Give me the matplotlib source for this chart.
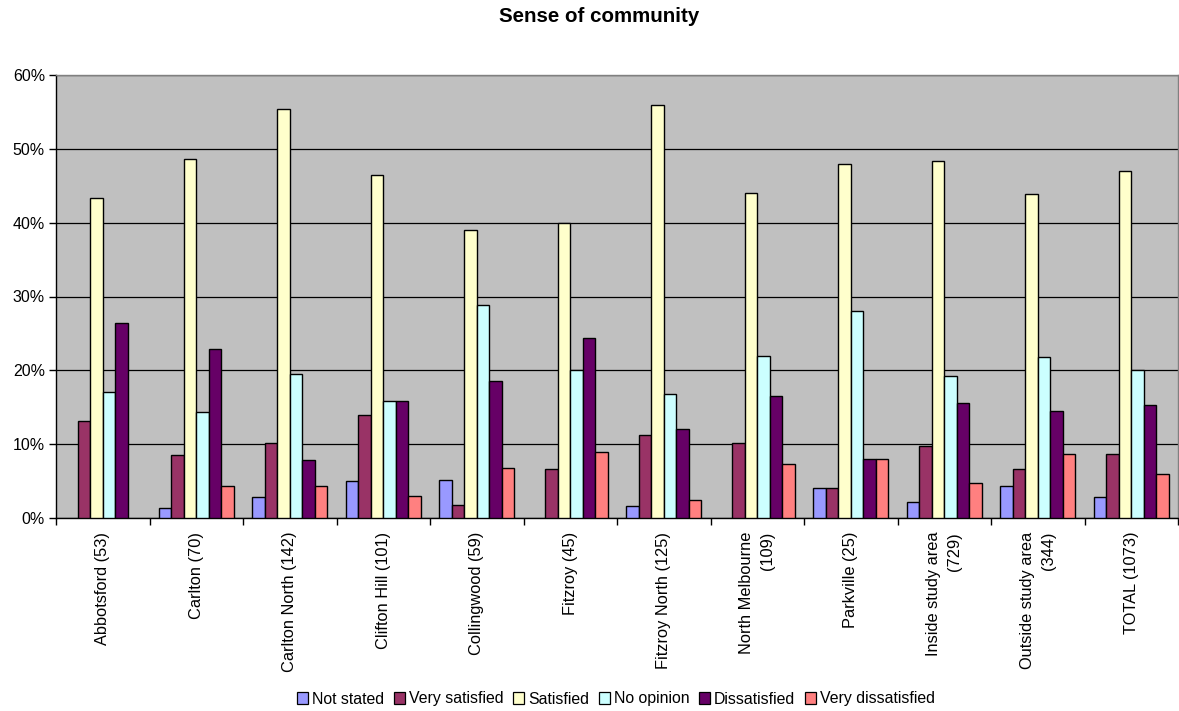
import numpy as np
import matplotlib
matplotlib.use("Agg")
import matplotlib.pyplot as plt
from matplotlib.patches import Patch
from matplotlib.ticker import FuncFormatter, FixedLocator

plt.rcParams['font.family'] = ['Liberation Sans', 'DejaVu Sans']

categories = ["Abbotsford (53)", "Carlton (70)", "Carlton North (142)", "Clifton Hill (101)",
              "Collingwood (59)", "Fitzroy (45)", "Fitzroy North (125)", "North Melbourne\n(109)",
              "Parkville (25)", "Inside study area\n(729)", "Outside study area\n(344)", "TOTAL (1073)"]

series_names = ["Not stated", "Very satisfied", "Satisfied", "No opinion", "Dissatisfied", "Very dissatisfied"]

not_stated        = [0.0, 1.4, 2.8, 5.0, 5.1, 0.0, 1.6, 0.0, 4.0, 2.2, 4.4, 2.9]
very_satisfied    = [13.2, 8.6, 10.1, 13.9, 1.7, 6.7, 11.2, 10.1, 4.0, 9.7, 6.7, 8.7]
satisfied         = [43.4, 48.6, 55.4, 46.5, 39.0, 40.0, 56.0, 44.0, 48.0, 48.4, 43.9, 47.0]
no_opinion        = [17.0, 14.3, 19.5, 15.8, 28.8, 20.0, 16.8, 22.0, 28.0, 19.3, 21.8, 20.1]
dissatisfied      = [26.4, 22.9, 7.9, 15.8, 18.6, 24.4, 12.0, 16.5, 8.0, 15.6, 14.5, 15.3]
very_dissatisfied = [0.0, 4.3, 4.3, 3.0, 6.8, 8.9, 2.4, 7.3, 8.0, 4.7, 8.7, 5.9]

colors = ["#9999FF", "#993366", "#FFFFCC", "#CCFFFF", "#660066", "#FF8080"]

series = [not_stated, very_satisfied, satisfied, no_opinion, dissatisfied, very_dissatisfied]

fig = plt.figure(figsize=(11.79, 7.11), dpi=100)
ax = fig.add_axes([56 / 1179, (711 - 518) / 711, (1178 - 56) / 1179, (518 - 75) / 711])
ax.set_facecolor("#C0C0C0")

n = len(series)
x = np.arange(len(categories))
bar_w = 0.8 / n
for i, (vals, col) in enumerate(zip(series, colors)):
    offs = (i - (n - 1) / 2) * bar_w
    vals = np.asarray(vals, dtype=float)
    # zero-valued bars are left undrawn
    heights = np.where(vals > 0, vals, np.nan)
    ax.bar(x + offs, heights, width=bar_w, color=col, edgecolor="black", linewidth=1.0, zorder=3)

ax.set_xlim(-0.5, len(categories) - 0.5)
ax.set_ylim(0, 60)
ax.set_yticks(np.arange(0, 61, 10))
ax.yaxis.set_major_formatter(FuncFormatter(lambda v, p: f"{int(v)}%"))
ax.yaxis.grid(True, color="black", linewidth=0.9, zorder=1)
ax.set_axisbelow(True)

ax.set_xticks(x)
ax.set_xticklabels(categories, rotation=90, ha="center", va="top", multialignment="right",
                   fontsize=11.8, linespacing=1.5)
ax.tick_params(axis="x", which="major", length=0, pad=10)
ax.xaxis.set_minor_locator(FixedLocator(np.arange(-0.5, len(categories) + 0.5, 1.0)))
ax.tick_params(axis="x", which="minor", length=5, width=1, color="black", direction="out")
ax.tick_params(axis="y", length=5, width=1, labelsize=11.5, direction="out", pad=3)

for s in ("top", "right"):
    ax.spines[s].set_color("#808080")
    ax.spines[s].set_linewidth(1.0)
for s in ("left", "bottom"):
    ax.spines[s].set_color("black")
    ax.spines[s].set_linewidth(1.0)

fig.text(599 / 1179, 1 - 17 / 711, "Sense of community", ha="center", va="center",
         fontsize=14.8, fontweight="bold")

handles = [Patch(facecolor=c, edgecolor="black", linewidth=0.9) for c in colors]
fig.legend(handles, series_names, loc="center", bbox_to_anchor=(616 / 1179, 1 - 699 / 711),
           ncol=6, frameon=False, fontsize=11.4, handlelength=0.7, handleheight=0.7,
           handletextpad=0.25, columnspacing=0.6)

fig.savefig("out.png", dpi=100)
